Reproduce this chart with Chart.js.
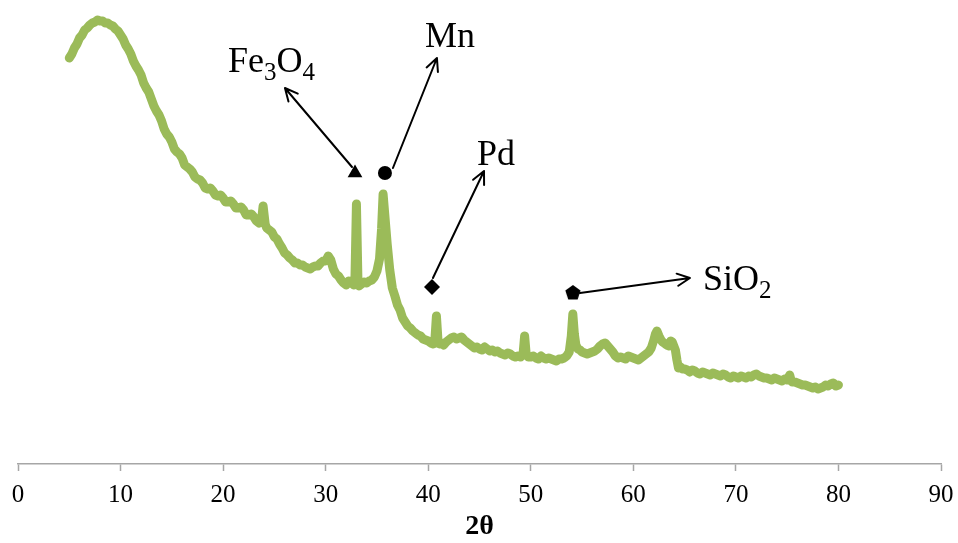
<!DOCTYPE html>
<html>
<head>
<meta charset="utf-8">
<script src="https://cdn.jsdelivr.net/npm/chart.js@4.4.0/dist/chart.umd.min.js"></script>
<style>
    html, body { margin: 0; padding: 0; background: #fff; }
    #wrap { position: relative; width: 958px; height: 543px; }
</style>
</head>
<body>
<div id="wrap"><canvas id="xrd"></canvas></div>
<script>
// XRD pattern, 2-theta vs intensity (arbitrary units)
const angles = [
    5.0, 5.25, 5.5, 5.75, 6.0, 6.25, 6.5, 6.75, 7.0, 7.25, 7.5, 7.75, 8.0, 8.25, 8.5, 8.75, 9.0, 9.25, 9.5, 9.75,
    10.0, 10.25, 10.5, 10.75, 11.0, 11.25, 11.5, 11.75, 12.0, 12.25, 12.5, 12.75, 13.0, 13.25, 13.5, 13.75, 14.0, 14.25, 14.5, 14.75,
    15.0, 15.25, 15.5, 15.75, 16.0, 16.25, 16.5, 16.75, 17.0, 17.25, 17.5, 17.75, 18.0, 18.25, 18.5, 18.75, 19.0, 19.25, 19.5, 19.75,
    20.0, 20.25, 20.5, 20.75, 21.0, 21.25, 21.5, 21.75, 22.0, 22.25, 22.5, 22.75, 23.0, 23.25, 23.5, 23.75, 23.9, 24.1, 24.25, 24.5,
    24.75, 25.0, 25.25, 25.5, 25.75, 26.0, 26.25, 26.5, 26.75, 27.0, 27.25, 27.5, 27.75, 28.0, 28.25, 28.5, 28.75, 29.0, 29.25, 29.5,
    29.75, 30.0, 30.25, 30.5, 30.75, 31.0, 31.25, 31.5, 31.75, 32.0, 32.25, 32.5, 32.75, 32.85, 33.0, 33.15, 33.25, 33.5, 33.75, 34.0,
    34.25, 34.5, 34.75, 35.0, 35.25, 35.45, 35.6, 35.8, 36.0, 36.25, 36.5, 36.75, 37.0, 37.25, 37.5, 37.75, 38.0, 38.25, 38.5, 38.75,
    39.0, 39.25, 39.5, 39.75, 40.0, 40.25, 40.5, 40.65, 40.8, 40.95, 41.1, 41.25, 41.5, 41.75, 42.0, 42.25, 42.5, 42.75, 43.0, 43.25,
    43.5, 43.75, 44.0, 44.25, 44.5, 44.75, 45.0, 45.25, 45.5, 45.75, 46.0, 46.25, 46.5, 46.75, 47.0, 47.25, 47.5, 47.75, 48.0, 48.25,
    48.5, 48.75, 49.0, 49.25, 49.4, 49.55, 49.75, 50.0, 50.25, 50.5, 50.75, 51.0, 51.25, 51.5, 51.75, 52.0, 52.25, 52.5, 52.75, 53.0,
    53.25, 53.5, 53.75, 53.95, 54.1, 54.25, 54.4, 54.6, 54.8, 55.0, 55.25, 55.5, 55.75, 56.0, 56.25, 56.5, 56.75, 57.0, 57.25, 57.5,
    57.75, 58.0, 58.25, 58.5, 58.75, 59.0, 59.25, 59.5, 59.75, 60.0, 60.25, 60.5, 60.75, 61.0, 61.25, 61.5, 61.75, 62.0, 62.15, 62.3,
    62.5, 62.7, 62.85, 63.0, 63.25, 63.5, 63.65, 63.8, 63.95, 64.1, 64.25, 64.4, 64.6, 64.8, 65.0, 65.25, 65.5, 65.75, 66.0, 66.25,
    66.5, 66.75, 67.0, 67.25, 67.5, 67.75, 68.0, 68.25, 68.5, 68.75, 69.0, 69.25, 69.5, 69.75, 70.0, 70.25, 70.5, 70.75, 71.0, 71.25,
    71.5, 71.75, 72.0, 72.25, 72.5, 72.75, 73.0, 73.25, 73.5, 73.75, 74.0, 74.25, 74.5, 74.75, 75.0, 75.25, 75.4, 75.5, 75.75, 76.0,
    76.25, 76.5, 76.75, 77.0, 77.25, 77.5, 77.75, 78.0, 78.25, 78.5, 78.75, 79.0, 79.25, 79.5, 79.75, 80.0
];
const intensity = [
    406, 410, 416, 420, 426, 429, 434, 436, 439, 441, 442, 444, 443, 443, 441, 441, 439, 438, 435, 433,
    429, 425, 419, 415, 410, 403, 398, 394, 389, 381, 376, 372, 365, 358, 353, 349, 343, 335, 330, 327,
    322, 315, 312, 310, 306, 299, 297, 295, 292, 287, 285, 284, 281, 276, 275, 276, 273, 269, 268, 269,
    266, 262, 262, 263, 260, 256, 256, 257, 254, 249, 249, 250, 247, 243, 241, 244, 258, 240, 236, 234,
    232, 227, 225, 220, 216, 211, 209, 206, 204, 201, 201, 199, 199, 197, 196, 195, 197, 198, 198, 201,
    203, 203, 208, 204, 195, 190, 188, 184, 181, 179, 183, 182, 179, 182, 260, 182, 178, 180, 182, 181,
    183, 184, 187, 193, 205, 235, 270, 245, 220, 194, 176, 168, 159, 154, 146, 142, 138, 136, 133, 131,
    129, 128, 125, 124, 123, 121, 120, 124, 148, 124, 120, 121, 119, 122, 124, 126, 127, 125, 126, 127,
    124, 122, 120, 118, 116, 117, 115, 114, 117, 115, 113, 114, 112, 113, 111, 110, 109, 111, 110, 108,
    107, 108, 107, 110, 128, 110, 107, 107, 108, 106, 105, 108, 106, 105, 106, 105, 104, 103, 105, 105,
    106, 108, 112, 128, 150, 130, 119, 115, 114, 112, 111, 110, 111, 112, 113, 115, 118, 120, 121, 118,
    115, 112, 108, 106, 107, 106, 105, 108, 107, 106, 105, 104, 106, 108, 110, 112, 116, 124, 130, 133,
    128, 124, 122, 121, 119, 118, 123, 122, 118, 114, 104, 96, 97, 95, 95, 94, 92, 94, 93, 91,
    90, 92, 91, 90, 89, 91, 90, 89, 88, 90, 89, 87, 86, 88, 87, 86, 88, 87, 86, 88,
    87, 89, 90, 88, 87, 86, 86, 85, 84, 86, 85, 84, 83, 85, 84, 89, 83, 82, 82, 81,
    80, 79, 79, 78, 77, 76, 77, 75, 76, 77, 79, 78, 80, 81, 78, 79
];

// phase markers above the peaks
const phaseNames = ["Fe3O4", "Mn", "Pd", "SiO2"];
const markerAngle = [32.86, 35.78, 40.37, 54.11];
const markerLevel = [291, 291, 177, 171];

// arrows from each marker to its label: [angle, level]
const arrowFrom = [[32.57, 297], [36.56, 296], [40.46, 186], [54.8, 171]];
const arrowTo = [[26.03, 376], [40.85, 406], [45.44, 293], [65.52, 186]];

// label text pieces, second value 1 = subscript
const labelParts = [
    [["Fe", 0], ["3", 1], ["O", 0], ["4", 1]],
    [["Mn", 0]],
    [["Pd", 0]],
    [["Si", 0], ["O", 0], ["2", 1]]
];
const labelAt = [[20.48, 392], [39.68, 417], [44.75, 299], [66.79, 174]];

const xTicks = [0, 10, 20, 30, 40, 50, 60, 70, 80, 90];

function pentagon(r) {
    const c = document.createElement("canvas");
    c.width = c.height = r * 2 + 2;
    const g = c.getContext("2d");
    g.fillStyle = "#000";
    g.beginPath();
    for (let i = 0; i < 5; i++) {
        const a = -Math.PI / 2 + i * 2 * Math.PI / 5;
        const px = r + 1 + r * Math.cos(a);
        const py = r + 1 + r * Math.sin(a);
        if (i === 0) g.moveTo(px, py); else g.lineTo(px, py);
    }
    g.closePath();
    g.fill();
    return c;
}

const arrowsAndLabels = {
    id: "arrowsAndLabels",
    afterDatasetsDraw(chart) {
        const ctx = chart.ctx;
        const xs = chart.scales.x;
        const ys = chart.scales.y;
        ctx.save();
        ctx.strokeStyle = "#000";
        ctx.lineWidth = 2;
        ctx.lineCap = "round";
        ctx.lineJoin = "round";
        arrowFrom.forEach((from, i) => {
            const x1 = xs.getPixelForValue(from[0]);
            const y1 = ys.getPixelForValue(from[1]);
            const x2 = xs.getPixelForValue(arrowTo[i][0]);
            const y2 = ys.getPixelForValue(arrowTo[i][1]);
            const ang = Math.atan2(y2 - y1, x2 - x1);
            const head = 14;
            ctx.beginPath();
            ctx.moveTo(x1, y1);
            ctx.lineTo(x2, y2);
            ctx.moveTo(x2 - head * Math.cos(ang - 0.45), y2 - head * Math.sin(ang - 0.45));
            ctx.lineTo(x2, y2);
            ctx.lineTo(x2 - head * Math.cos(ang + 0.45), y2 - head * Math.sin(ang + 0.45));
            ctx.stroke();
        });

        ctx.fillStyle = "#000";
        ctx.textBaseline = "alphabetic";
        ctx.textAlign = "left";
        labelParts.forEach((parts, i) => {
            let x = xs.getPixelForValue(labelAt[i][0]);
            const y = ys.getPixelForValue(labelAt[i][1]);
            parts.forEach(([txt, sub]) => {
                ctx.font = sub ? "25px 'Liberation Serif'" : "36px 'Liberation Serif'";
                ctx.fillText(txt, x, sub ? y + 8 : y);
                x += ctx.measureText(txt).width;
            });
        });
        ctx.restore();
    }
};

new Chart(document.getElementById("xrd"), {
    type: "line",
    data: {
        datasets: [
            {
                label: "phases",
                data: markerAngle.map((a, i) => ({ x: a, y: markerLevel[i] })),
                showLine: false,
                pointStyle: ["triangle", "circle", "rectRot", pentagon(8)],
                pointRadius: [8.5, 7, 8, 8],
                pointBackgroundColor: "#000",
                pointBorderColor: "#000",
                pointBorderWidth: 0
            },
            {
                label: "XRD",
                data: angles.map((a, i) => ({ x: a, y: intensity[i] })),
                borderColor: "#9bbb59",
                borderWidth: 9,
                borderJoinStyle: "round",
                borderCapStyle: "round",
                pointRadius: 0,
                tension: 0,
                fill: false
            }
        ]
    },
    options: {
        responsive: true,
        maintainAspectRatio: false,
        animation: false,
        layout: { autoPadding: false, padding: { left: 18, right: 17, top: 0, bottom: 0 } },
        plugins: {
            legend: { display: false },
            tooltip: { enabled: false }
        },
        scales: {
            x: {
                type: "linear",
                min: 0,
                max: 90,
                afterBuildTicks: axis => { axis.ticks = xTicks.map(v => ({ value: v })); },
                afterFit: axis => { axis.paddingLeft = 0; axis.paddingRight = 0; },
                ticks: {
                    color: "#000",
                    padding: 11.5,
                    maxRotation: 0,
                    font: { family: "'Liberation Serif'", size: 25, lineHeight: 1 }
                },
                grid: {
                    drawOnChartArea: false,
                    drawTicks: true,
                    tickLength: 7,
                    tickWidth: 1.5,
                    tickColor: "#a6a6a6"
                },
                border: { color: "#a6a6a6", width: 1.5 },
                title: {
                    display: true,
                    text: "2θ",
                    color: "#000",
                    padding: { top: -6, bottom: 2 },
                    font: { family: "'Liberation Serif'", size: 28, weight: "bold", lineHeight: 1 }
                }
            },
            y: {
                display: false,
                min: 0,
                max: 464
            }
        }
    },
    plugins: [arrowsAndLabels]
});
</script>
</body>
</html>
